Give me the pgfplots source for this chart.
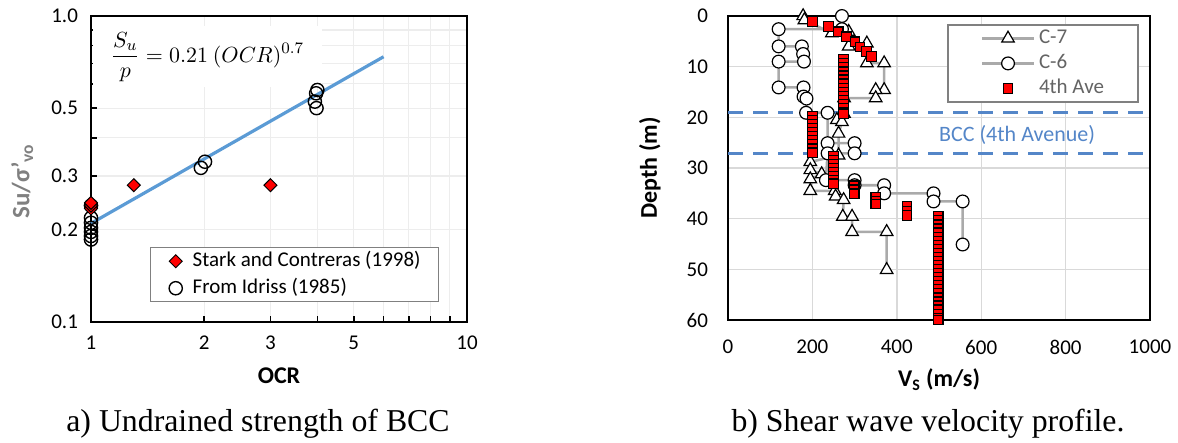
\documentclass[border=0pt]{standalone}
\usepackage{fontspec}
\setmainfont{Carlito}
\newfontfamily\capfont{Liberation Serif}
\usepackage{pgfplots}
\pgfplotsset{compat=1.18}
\definecolor{fitblue}{RGB}{91,155,213}
\definecolor{bccblue}{RGB}{84,134,200}
\definecolor{profgray}{RGB}{170,170,170}
\definecolor{labgray}{RGB}{128,128,128}
\definecolor{legtext}{RGB}{100,100,100}
\begin{document}
\begin{tikzpicture}
\path[use as bounding box] (0,0) rectangle (589pt,221.5pt);

% ---------------- left panel ----------------
\begin{axis}[
  at={(45.5pt,60.5pt)}, anchor=south west,
  width=188pt, height=153pt, scale only axis,
  xmode=log, ymode=log, xmin=1, xmax=10, ymin=0.1, ymax=1,
  xtick={1,2,3,4,5,6,7,8,9,10}, xticklabels={1,2,3,{},5,{},{},{},{},10},
  ytick={0.1,0.2,0.3,0.4,0.5,0.6,0.7,0.8,0.9,1}, yticklabels={0.1,0.2,0.3,{},0.5,{},{},{},{},1.0},
  minor xtick={}, minor ytick={},
  tick align=inside, xtick pos=bottom, ytick pos=left, major tick length=3.2pt,
  tick style={black, line width=0.8pt},
  grid=major, major grid style={gray!14, line width=0.6pt},
  axis line style={line width=0.9pt},
  ticklabel style={font=\fontsize{10.5}{12}\selectfont},
  xticklabel style={yshift=-3.5pt}, yticklabel style={xshift=-3pt},
  xlabel={OCR},
  xlabel style={at={(axis description cs:0.5,-0.176)}, anchor=center, font=\bfseries\fontsize{12}{14}\selectfont},
  ylabel={Su/σ’\textsubscript{vo}},
  ylabel style={at={(axis description cs:-0.183,0.46)}, anchor=center, text=labgray, font=\bfseries\fontsize{12.5}{14}\selectfont},
  clip=false,
  reverse legend,
  legend image code/.code={\path[draw=none,fill=none] (0pt,-3pt) rectangle (12pt,3pt);
     \draw[mark repeat=2,mark phase=2,#1] plot coordinates {(0pt,0pt) (5pt,0pt) (10pt,0pt)};},
  legend style={at={(axis description cs:0.157,0.245)}, anchor=north west,
    draw=labgray, line width=0.7pt, fill=white, inner xsep=7.5pt, inner ysep=0.5pt,
    font=\fontsize{10.5}{12}\selectfont, row sep=1pt,
    nodes={inner sep=1.5pt, text height=7.5pt, text depth=2pt}},
  legend cell align=left,
]
\addplot[fitblue, line width=1.6pt, forget plot] coordinates {(1,0.21) (6,0.736)};
\addplot[only marks, mark=o, mark size=3.3pt, black, mark options={line width=0.7pt}] coordinates {
  (1,0.240) (1,0.219) (1,0.211) (1,0.203) (1,0.197) (1,0.191) (1,0.186)
  (1.96,0.319) (2.01,0.334)
  (3.94,0.525) (3.98,0.500) (3.97,0.559) (4.00,0.573)
};
\addlegendentry{From Idriss (1985)}
\addplot[only marks, mark=square*, mark size=2.3pt, mark options={rotate=45, fill=red, draw=black, line width=0.5pt}] coordinates {
  (1,0.235) (1,0.240) (1,0.245) (1.3,0.280) (3,0.280)
};
\addlegendentry{Stark and Contreras (1998)}
\node[fill=white, inner xsep=9pt, inner ysep=3pt, font=\fontsize{11}{13}\selectfont] at (axis cs:2.04,0.735)
  {$\displaystyle\frac{S_u}{p} = 0.21\ (OCR)^{0.7}$};
\end{axis}

% ---------------- right panel ----------------
\begin{axis}[
  at={(364pt,61.5pt)}, anchor=south west,
  width=211pt, height=152pt, scale only axis,
  xmin=0, xmax=1000, ymin=0, ymax=60, y dir=reverse,
  xtick={0,200,400,600,800,1000}, xticklabels={0,200,400,600,800,1000},
  ytick={0,10,20,30,40,50,60}, yticklabels={0,10,20,30,40,50,60},
  major tick length=0pt,
  grid=major, major grid style={gray!30, line width=0.7pt},
  axis line style={line width=0.9pt},
  ticklabel style={font=\fontsize{10.5}{12}\selectfont},
  xticklabel style={yshift=-6.5pt}, yticklabel style={xshift=-6.5pt},
  xlabel={V\textsubscript{S} (m/s)},
  xlabel style={at={(axis description cs:0.5,-0.197)}, anchor=center, font=\bfseries\fontsize{12}{14}\selectfont},
  ylabel={Depth (m)},
  ylabel style={at={(axis description cs:-0.185,0.5)}, anchor=center, font=\bfseries\fontsize{12}{14}\selectfont},
  clip=false,
  legend image code/.code={\path[draw=none,fill=none] (-1.5pt,-3pt) rectangle (27pt,3pt);
     \draw[mark repeat=2,mark phase=2,#1] plot coordinates {(0pt,0pt) (13pt,0pt) (26pt,0pt)};},
  legend style={at={(axis description cs:0.519,0.974)}, anchor=north west,
    draw=labgray, line width=1pt, fill=white, inner xsep=15.5pt, inner ysep=0.5pt,
    font=\fontsize{10.5}{12}\selectfont, text=legtext, row sep=0pt,
    nodes={inner sep=1.5pt, text height=7.5pt, text depth=2pt}},
  legend cell align=left,
]
\addplot[bccblue, line width=1.6pt, dash pattern=on 7.5pt off 5pt, forget plot] coordinates {(0,19.1) (1000,19.1)};
\addplot[bccblue, line width=1.6pt, dash pattern=on 7.5pt off 5pt, forget plot] coordinates {(0,27.1) (1000,27.1)};
\node[text=bccblue, font=\fontsize{11}{13}\selectfont] at (axis cs:685,23.5) {BCC (4th Avenue)};

\addplot[profgray, line width=1.3pt, mark=triangle*, mark size=3.6pt, mark options={fill=white, draw=black, line width=0.6pt}] coordinates {
  (178,0) (181,0.8) (246,3.4) (286,3.1) (286,6.0) (329,5.4) (329,9.3) (370,9.3)
  (370,14.6) (350,14.6) (350,16.2) (275,16.2) (275,19.3) (258,20.5) (270,20.9)
  (262,23.2) (262,27.5) (195,28.8) (195,30.4) (222,31.2) (195,32.2) (195,34.5)
  (253,34.5) (255,35.6) (274,36.3) (272,39.6) (294,39.6) (294,42.6) (376,42.6) (376,50.1)
};
\addlegendentry{C-7}
\addplot[profgray, line width=1.3pt, mark=*, mark size=3.2pt, mark options={fill=white, draw=black, line width=0.6pt}] coordinates {
  (270,0) (270,2.6) (120,2.6) (120,6.0) (175,6.0) (178,7.5) (180,9.0) (120,9.0)
  (120,14.1) (179,14.1) (179,15.9) (186,16.3) (185,19.1) (236,19.1) (236,25.1)
  (300,25.1) (300,27.1) (236,27.1) (232,32.4) (300,32.4) (300,33.4) (370,33.4)
  (370,35.0) (487,35.0) (487,36.6) (556,36.6) (556,45.1)
};
\addlegendentry{C-6}
\addplot[only marks, mark=square*, mark size=2.4pt, mark options={fill=red, draw=black, line width=0.6pt}] coordinates {
  (200,1.1) (238,2.1) (261,3.1) (281,4.1) (301,5.1) (313,6.1) (328,7.0) (340,8.0)
  (274,8.6) (274,9.4) (274,10.2) (274,11.0) (274,11.8) (274,12.6) (274,13.4) (274,14.2)
  (274,15.0) (274,15.8) (274,16.6) (274,17.4) (274,18.2) (274,19.0) (274,19.3)
  (200,19.8) (200,20.6) (200,21.4) (200,22.2) (200,23.0) (200,23.8) (200,24.6)
  (200,25.4) (200,26.2) (200,27.0)
  (250,27.7) (250,28.5) (250,29.3) (250,30.1) (250,30.9) (250,31.7) (250,32.5) (250,33.1)
  (299,33.5) (299,34.3) (299,35.1)
  (350,35.8) (350,36.5) (350,37.1)
  (424,37.6) (424,38.5) (424,39.4)
  (498,39.6) (498,40.4) (498,41.2) (498,42.0) (498,42.8) (498,43.6) (498,44.4) (498,45.2)
  (498,46.0) (498,46.8) (498,47.6) (498,48.4) (498,49.2) (498,50.0) (498,50.8) (498,51.6)
  (498,52.4) (498,53.2) (498,54.0) (498,54.8) (498,55.6) (498,56.4) (498,57.2) (498,58.0)
  (498,58.8) (498,59.6) (498,60.0)
};
\addlegendentry{4th Ave}
\end{axis}

\node[font=\capfont\fontsize{15.9}{18}\selectfont, anchor=base] at (129pt,5.5pt) {a) Undrained strength of BCC};
\node[font=\capfont\fontsize{15.9}{18}\selectfont, anchor=base] at (464pt,5.5pt) {b) Shear wave velocity profile.};
\end{tikzpicture}
\end{document}
